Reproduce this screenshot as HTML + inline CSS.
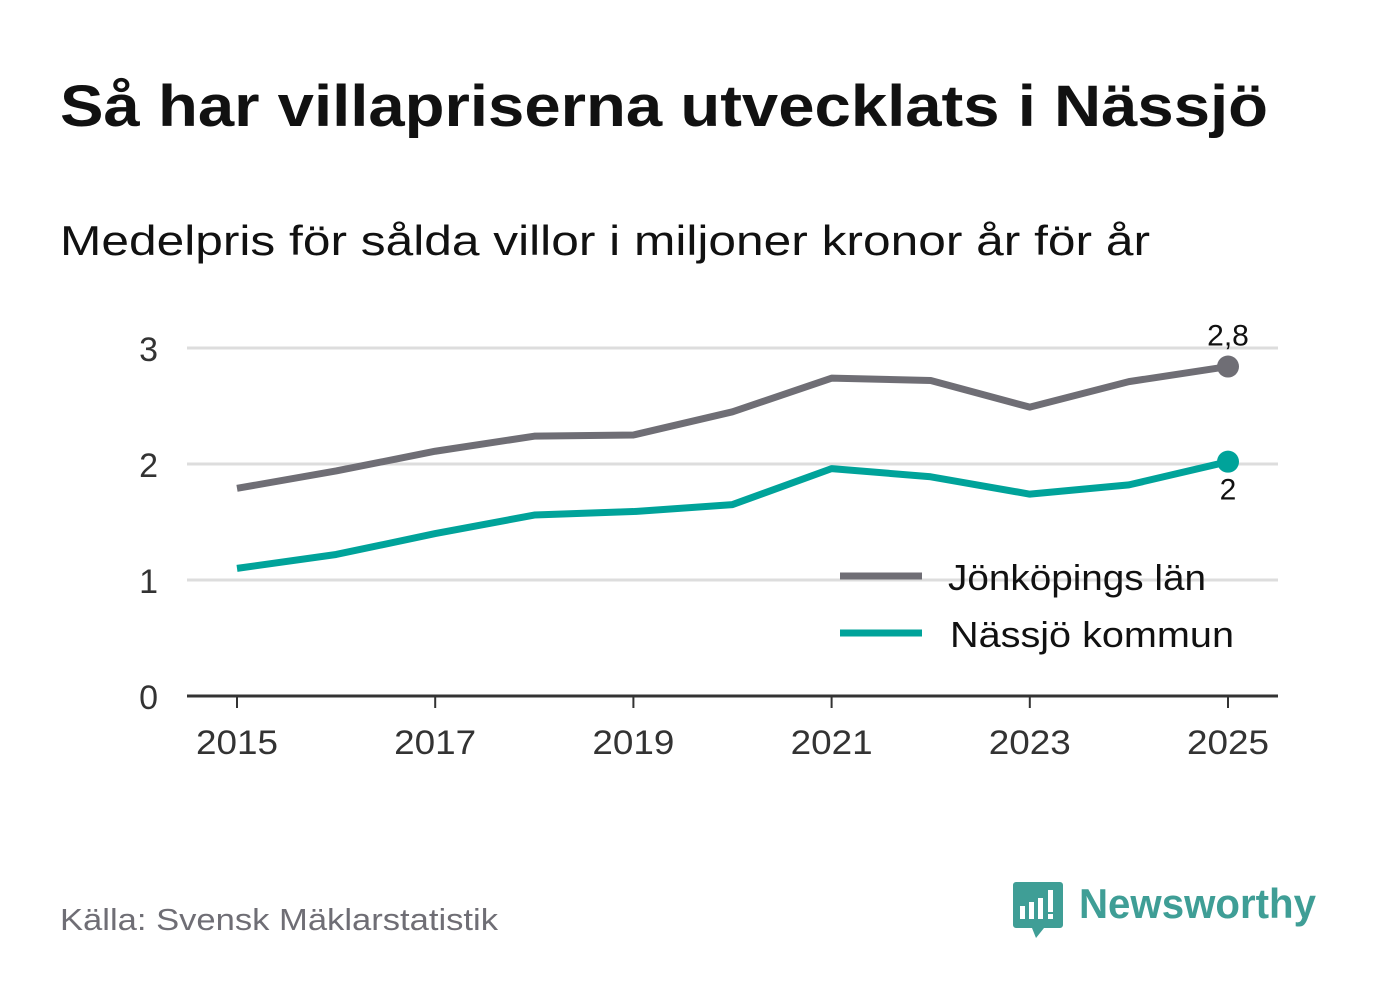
<!DOCTYPE html>
<html><head><meta charset="utf-8"><style>
body{margin:0;background:#fff;width:1382px;height:999px;overflow:hidden;font-family:"Liberation Sans","DejaVu Sans",sans-serif;}
</style></head><body>
<svg width="1382" height="999" xmlns="http://www.w3.org/2000/svg">
<text x="60" y="126" font-size="58" font-weight="bold" fill="#111" textLength="1208" lengthAdjust="spacingAndGlyphs">Så har villapriserna utvecklats i Nässjö</text>
<text x="60" y="255" font-size="42" fill="#111" textLength="1090" lengthAdjust="spacingAndGlyphs">Medelpris för sålda villor i miljoner kronor år för år</text>
<g id="grid"></g><g id="axes"></g><g id="lines"></g>
<g>
<line x1="840" y1="576" x2="922" y2="576" stroke="#6f6e75" stroke-width="7"/>
<text x="948" y="590" font-size="36" fill="#111" textLength="258" lengthAdjust="spacingAndGlyphs">Jönköpings län</text>
<line x1="840" y1="633" x2="922" y2="633" stroke="#00a39a" stroke-width="7"/>
<text x="950" y="647" font-size="36" fill="#111" textLength="284" lengthAdjust="spacingAndGlyphs">Nässjö kommun</text>
</g>
<text x="60" y="930" font-size="31" fill="#6f6e75" textLength="438" lengthAdjust="spacingAndGlyphs">Källa: Svensk Mäklarstatistik</text>
<g>
<path d="M1016 882 h44 a3 3 0 0 1 3 3 v40 a3 3 0 0 1 -3 3 h-16 l-8 10 l-4 -10 h-16 a3 3 0 0 1 -3 -3 v-40 a3 3 0 0 1 3 -3z" fill="#3f9e96"/>
<rect x="1020" y="906" width="5" height="13" fill="#fff"/><rect x="1029" y="902" width="5" height="17" fill="#fff"/><rect x="1038" y="898" width="5" height="21" fill="#fff"/><rect x="1048" y="890" width="5" height="22" fill="#fff"/><rect x="1048" y="914" width="5" height="5" fill="#fff"/>
<text x="1079" y="918" font-size="42" font-weight="bold" fill="#3f9e96" textLength="237" lengthAdjust="spacingAndGlyphs">Newsworthy</text>
</g>
</svg>
<script>
const years=[2015,2016,2017,2018,2019,2020,2021,2022,2023,2024,2025];
const jonkoping=[1.79,1.94,2.11,2.24,2.25,2.45,2.74,2.72,2.49,2.71,2.84];
const nassjo=[1.10,1.22,1.40,1.56,1.59,1.65,1.96,1.89,1.74,1.82,2.02];
const yTicks=[0,1,2,3];
const xTicks=[2015,2017,2019,2021,2023,2025];
const NS="http://www.w3.org/2000/svg";
const xs=y=>237+(y-2015)*99.1;
const ys=v=>696-v*116;
function mk(t,a,p){const e=document.createElementNS(NS,t);for(const k in a)e.setAttribute(k,a[k]);p.appendChild(e);return e;}
const g=document.getElementById('grid'),ax=document.getElementById('axes'),L=document.getElementById('lines');
yTicks.forEach(v=>{
 if(v>0){const l=mk('line',{x1:187,x2:1278,y1:ys(v),y2:ys(v),stroke:'#dddddd','stroke-width':3},g);
 
 }
 const t=mk('text',{x:158,y:ys(v)+13,'font-size':34,fill:'#333','text-anchor':'end'},ax);t.textContent=v;
 
 
});
const base=mk('line',{x1:187,x2:1278,y1:696,y2:696,stroke:'#333','stroke-width':3},ax);


xTicks.forEach(y=>{
 mk('line',{x1:xs(y),x2:xs(y),y1:696,y2:708,stroke:'#333','stroke-width':2},ax);
 const t=mk('text',{x:xs(y),y:754,'font-size':34,fill:'#333','text-anchor':'middle',textLength:82,lengthAdjust:'spacingAndGlyphs'},ax);t.textContent=y;
 
 
});
function series(vals,col,name,lbl,dy){
 const p=mk('polyline',{points:vals.map((v,i)=>xs(years[i])+','+ys(v)).join(' '),fill:'none',stroke:col,'stroke-width':7,'stroke-linejoin':'round'},L);
 
 
 const last=vals.length-1;
 const c=mk('circle',{cx:xs(years[last]),cy:ys(vals[last]),r:11,fill:col},L);
 
 
 const t=mk('text',{x:xs(years[last]),y:ys(vals[last])+dy,'font-size':30,fill:'#111','text-anchor':'middle'},L);t.textContent=lbl;
 
 
}
series(jonkoping,'#6f6e75','jonkoping',jonkoping[jonkoping.length-1].toFixed(1).replace('.',','),-21);
series(nassjo,'#00a39a','nassjo',String(Math.round(nassjo[nassjo.length-1]*10)/10).replace('.',','),38);
</script>
</body></html>
